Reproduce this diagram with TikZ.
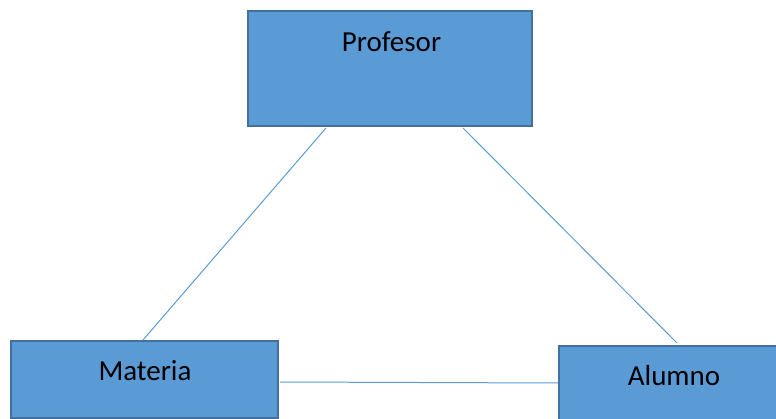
\documentclass[tikz,border=0pt]{standalone}
\usepackage{fontspec}
\setmainfont{Carlito}
\usetikzlibrary{calc}
\definecolor{boxfill}{HTML}{5B9BD5}
\definecolor{boxedge}{HTML}{41719C}
\definecolor{linkcol}{HTML}{5B9BD5}
\tikzset{
  entity/.style={draw=boxedge, fill=boxfill, line width=2pt, rectangle,
    inner sep=0pt, outer sep=0pt},
  caption/.style={anchor=base, font=\fontsize{29}{34}\selectfont, text=black,
    inner sep=0pt},
  link/.style={draw=linkcol, line width=1pt}
}
\begin{document}
\begin{tikzpicture}[x=1pt, y=-1pt]
  \useasboundingbox (0,0) rectangle (776,419);
  \clip (0,0) rectangle (776,419);
  % boxes
  \node[entity, minimum width=284pt, minimum height=115pt] (prof) at (390,68.5) {};
  \node[entity, minimum width=267pt, minimum height=77pt] (mat) at (144.5,379.5) {};
  \node[entity, minimum width=240pt, minimum height=90pt] (alu) at (679,391) {};
  % captions
  \node[caption] (profT) at (391.5,52) {Profesor};
  \node[caption] (matT) at (145,380) {Materia};
  \node[caption] (aluT) at (674,385.5) {Alumno};
  % connectors
  \draw[link] ([shift={(78,2)}]prof.south west) -- ([shift={(132,-1)}]mat.north west);
  \draw[link] ([shift={(215,2)}]prof.south west) -- ([shift={(118,-3)}]alu.north west);
  \draw[link] ([shift={(2,2.5)}]mat.east) -- ([shift={(-1,-8)}]alu.west);
\end{tikzpicture}
\end{document}
